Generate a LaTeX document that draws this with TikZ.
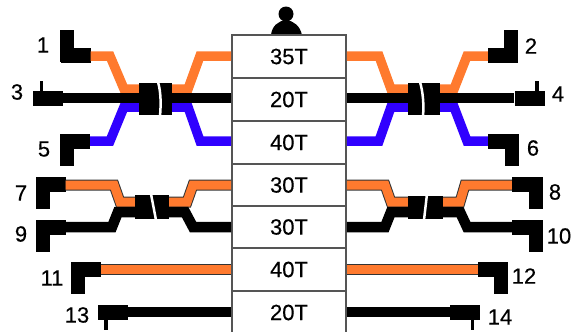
\documentclass[tikz,border=0pt]{standalone}
\usepackage{fontspec}
\setmainfont[FakeBold=0.35]{Liberation Sans}
\definecolor{cableorange}{RGB}{255,122,46}
\definecolor{cableblue}{RGB}{48,0,255}
\definecolor{boxgray}{RGB}{85,85,85}
\tikzset{
  slot/.style={draw=boxgray,line width=1.8pt,fill=white,minimum width=114pt,inner sep=0pt,font=\fontsize{22}{22}\selectfont},
  plug/.style={fill=black,inner sep=0pt,minimum width=30pt,minimum height=15pt},
  leg/.style={fill=black,inner sep=0pt,minimum width=14pt,minimum height=32pt},
  pin/.style={fill=black,inner sep=0pt,minimum width=3.5pt,minimum height=11pt},
  splice/.style={fill=black,inner sep=0pt},
  num/.style={inner sep=0pt,font=\fontsize{22}{22}\selectfont},
  orangecable/.style={draw=cableorange,line width=9.5pt,line join=miter},
  edgedcable/.style={draw=black!80,line width=11pt,line join=miter,postaction={draw=cableorange,line width=9pt}},
  bluecable/.style={draw=cableblue,line width=9.5pt,line join=miter},
  blackcable/.style={draw=black,line width=10.5pt,line join=miter},
  gap/.style={draw=white,line width=2.5pt}
}
\begin{document}
\begin{tikzpicture}[x=1pt,y=-1pt]
\useasboundingbox (0,0) rectangle (571,332);
% person on top
\node[circle,fill=black,inner sep=0pt,minimum size=15pt] (head) at (286,14) {};
\fill (271,35) .. controls (272,26) and (278,21) .. (286,20) .. controls (294,21) and (300,26) .. (302,35) -- cycle;
% the stack of slots
\node[slot,minimum height=43pt] (box1) at (289,56.5) {35T};
\node[slot,minimum height=43pt] (box2) at (289,99.5) {20T};
\node[slot,minimum height=43pt] (box3) at (289,142.5) {40T};
\node[slot,minimum height=42pt] (box4) at (289,185) {30T};
\node[slot,minimum height=42pt] (box5) at (289,227) {30T};
\node[slot,minimum height=43pt] (box6) at (289,269.5) {40T};
\node[slot,minimum height=43pt] (box7) at (289,312.5) {20T};
% plugs with a leg
\foreach \n/\hx/\hy/\lx/\ly in {1/75.5/55/67/46,5/75/141/67/150,7/50.5/184.5/42.5/193,9/51/227.5/43/236,
  11/85.5/269/77.5/278,2/503/55/511/46,6/503/141/511.5/150,8/527/184.5/535.5/193,10/527/227.5/535.5/236,12/493/269/501/278}{
  \node[plug] (p\n) at (\hx,\hy) {};
  \node[leg] (l\n) at (\lx,\ly) {};
}
% plugs with a pin
\foreach \n/\hx/\hy/\lx/\ly in {3/48/98/41.5/86,4/529.5/98/537/86,13/113/312/106/324,14/465/312/472.5/324}{
  \node[plug] (p\n) at (\hx,\hy) {};
  \node[pin] (l\n) at (\lx,\ly) {};
}
% splices
\node[splice,minimum width=33pt,minimum height=32pt] (spA) at (155.5,99) {};
\node[splice,minimum width=32pt,minimum height=32pt] (spB) at (424,99) {};
\node[splice,minimum width=34pt,minimum height=24pt] (spC) at (152,207) {};
\node[splice,minimum width=35pt,minimum height=23pt] (spD) at (425.5,207) {};
% cables
\draw[orangecable] (p1.east |- 0,56) -- (110,56) -- (124,89) -- (spA.west |- 0,89);
\draw[orangecable] (spA.east |- 0,89) -- (188,89) -- (200,56) -- (box1.west |- 0,56);
\draw[bluecable] (p5.east |- 0,141) -- (110,141) -- (124,107) -- (spA.west |- 0,107);
\draw[bluecable] (spA.east |- 0,107) -- (188,107) -- (200,141) -- (box3.west |- 0,141);
\draw[blackcable] (p3.east) -- (spA.west |- p3.east);
\draw[blackcable] (spA.east |- p3.east) -- (box2.west |- p3.east);
\draw[orangecable] (box1.east |- 0,56) -- (379,56) -- (391,89) -- (spB.west |- 0,89);
\draw[orangecable] (spB.east |- 0,89) -- (454,89) -- (467,56) -- (p2.west |- 0,56);
\draw[bluecable] (box3.east |- 0,141) -- (379,141) -- (391,107) -- (spB.west |- 0,107);
\draw[bluecable] (spB.east |- 0,107) -- (454,107) -- (467,141) -- (p6.west |- 0,141);
\draw[blackcable] (box2.east |- p4.west) -- (spB.west |- p4.west);
\draw[blackcable] (spB.east |- p4.west) -- (p4.west);
\draw[edgedcable] (p7.east |- 0,185) -- (114,185) -- (120,202) -- (spC.west |- 0,202);
\draw[edgedcable] (spC.east |- 0,202) -- (187,202) -- (193,185) -- (box4.west |- 0,185);
\draw[blackcable] (p9.east |- 0,227) -- (112,227) -- (118,212) -- (spC.west |- 0,212);
\draw[blackcable] (spC.east |- 0,212) -- (185,212) -- (193,227) -- (box5.west |- 0,227);
\draw[edgedcable] (box4.east |- 0,185) -- (385,185) -- (391,202) -- (spD.west |- 0,202);
\draw[edgedcable] (spD.east |- 0,202) -- (460,202) -- (465,185) -- (p8.west |- 0,185);
\draw[blackcable] (box5.east |- 0,227) -- (385,227) -- (391,212) -- (spD.west |- 0,212);
\draw[blackcable] (spD.east |- 0,212) -- (460,212) -- (467,227) -- (p10.west |- 0,227);
\draw[edgedcable] (p11.east) -- (box6.west |- p11.east);
\draw[edgedcable] (box6.east |- p12.west) -- (p12.west);
\draw[blackcable] (p13.east) -- (box7.west |- p13.east);
\draw[blackcable] (box7.east |- p14.west) -- (p14.west);
% breaks in the splices
\draw[gap] (158,82) .. controls (161,92) and (161,105) .. (160,116);
\draw[gap] (420,82) .. controls (423,92) and (424,105) .. (423,116);
\draw[gap] (151,194) -- (156,220);
\draw[gap] (427,194) -- (424,220);
% numbers
\foreach \n/\x/\y in {1/43/45,3/17/92,5/44/149,7/21/193,9/21/234,11/52/278,13/77/315,
  2/531/46,4/558/94,6/533/148,8/555/192,10/559/236,12/524/276,14/500/317}{
  \node[num] (n\n) at (\x,\y) {\n};
}
\end{tikzpicture}
\end{document}
